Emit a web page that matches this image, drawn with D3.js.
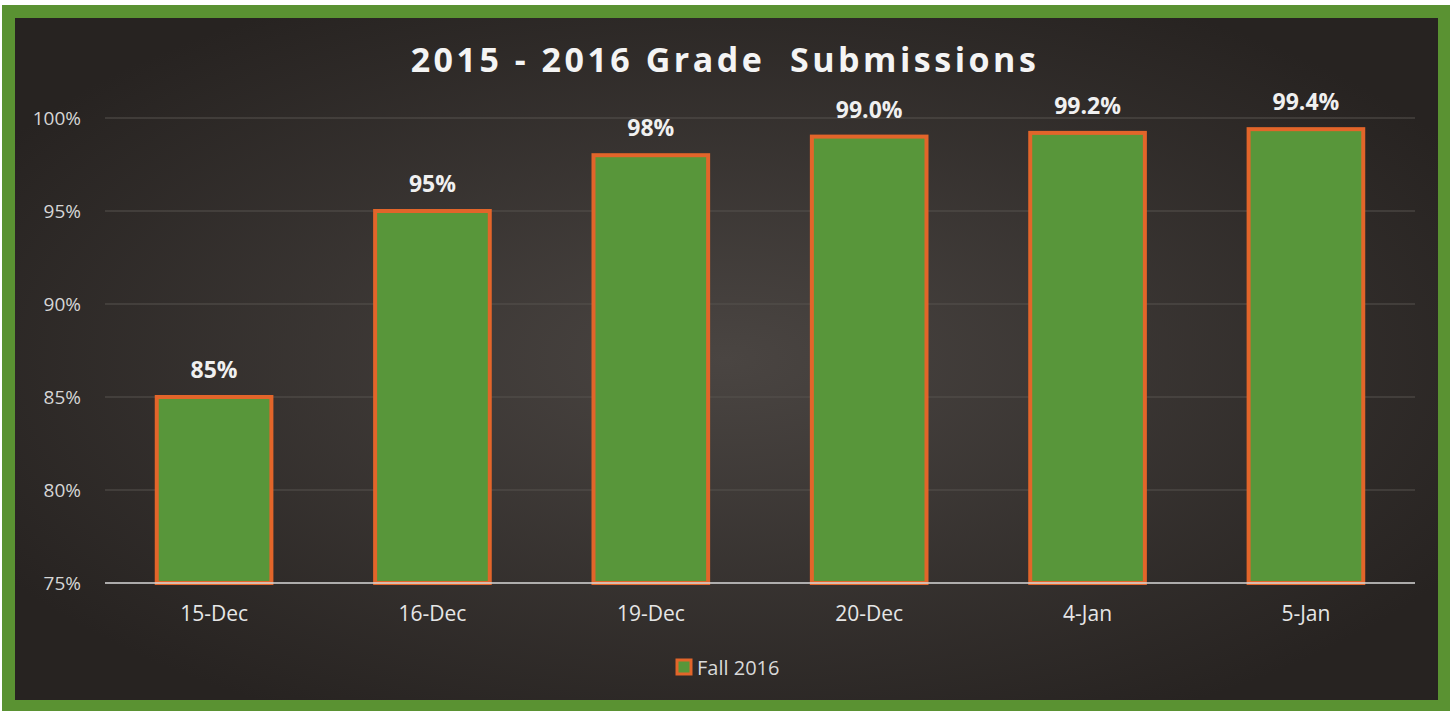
<!DOCTYPE html>
<html>
<head>
<meta charset="utf-8">
<script src="https://cdn.jsdelivr.net/npm/d3@7"></script>
<style>
  body { margin: 0; background: #fff; }
  text { font-family: "Open Sans", "Liberation Sans", sans-serif; }
</style>
</head>
<body>
<div id="chart"></div>
<script>
// Data
const categories = ["15-Dec", "16-Dec", "19-Dec", "20-Dec", "4-Jan", "5-Jan"];
const values = [85, 95, 98, 99.0, 99.2, 99.4];
const valueLabels = ["85%", "95%", "98%", "99.0%", "99.2%", "99.4%"];
const yTicks = [75, 80, 85, 90, 95, 100];
const seriesName = "Fall 2016";

const W = 1452, H = 711;
const plotLeft = 105, plotRight = 1415, plotTop = 118, plotBottom = 583;

const svg = d3.select("#chart").append("svg")
    .attr("width", W)
    .attr("height", H);

// background gradient
const defs = svg.append("defs");
const grad = defs.append("radialGradient")
    .attr("id", "bg")
    .attr("cx", "50%").attr("cy", "50%").attr("r", "60%");
grad.append("stop").attr("offset", "0%").attr("stop-color", "#4a4542");
grad.append("stop").attr("offset", "100%").attr("stop-color", "#272321");

// green frame
svg.append("rect")
    .attr("x", 2).attr("y", 5)
    .attr("width", W - 4).attr("height", H - 5)
    .attr("fill", "#5a9232");
svg.append("rect")
    .attr("x", 15).attr("y", 18)
    .attr("width", 1423).attr("height", 682)
    .attr("fill", "url(#bg)");

const x = d3.scaleBand()
    .domain(categories)
    .range([plotLeft, plotRight])
    .paddingInner(0.475)
    .paddingOuter(0.237);

const y = d3.scaleLinear()
    .domain([75, 100])
    .range([plotBottom, plotTop]);

// gridlines
svg.append("g")
    .selectAll("line")
    .data(yTicks.filter(d => d > 75))
    .join("line")
    .attr("x1", plotLeft).attr("x2", plotRight)
    .attr("y1", d => y(d)).attr("y2", d => y(d))
    .attr("stroke", "#57524f")
    .attr("stroke-width", 1);

// y axis labels
const yAxis = d3.axisLeft(y)
    .tickValues(yTicks)
    .tickSize(0)
    .tickPadding(0)
    .tickFormat(d => d + "%");
const yg = svg.append("g")
    .attr("transform", "translate(81,0)")
    .call(yAxis);
yg.select(".domain").remove();
yg.selectAll("text")
    .attr("fill", "#d6d6d6")
    .style("font-size", "19px");

// bars
svg.append("g")
    .selectAll("rect")
    .data(values)
    .join("rect")
    .attr("x", (d, i) => x(categories[i]))
    .attr("y", d => y(d))
    .attr("width", x.bandwidth())
    .attr("height", d => y(75) - y(d))
    .attr("fill", "#58963a")
    .attr("stroke", "#e2652a")
    .attr("stroke-width", 4);

// baseline
svg.append("line")
    .attr("x1", plotLeft).attr("x2", plotRight)
    .attr("y1", y(75)).attr("y2", y(75))
    .attr("stroke", "#d9d9d9")
    .attr("stroke-width", 1.5);

// value labels
svg.append("g")
    .selectAll("text")
    .data(values)
    .join("text")
    .attr("x", (d, i) => x(categories[i]) + x.bandwidth() / 2)
    .attr("y", d => y(d) - 19)
    .attr("text-anchor", "middle")
    .attr("fill", "#f0f0f0")
    .style("font-size", "23px")
    .style("font-weight", "bold")
    .text((d, i) => valueLabels[i]);

// x axis labels
const xAxis = d3.axisBottom(x).tickSize(0).tickPadding(0);
const xg = svg.append("g")
    .attr("transform", "translate(0,606)")
    .call(xAxis);
xg.select(".domain").remove();
xg.selectAll("text")
    .attr("fill", "#e6e6e6")
    .style("font-size", "21px");

// Title
svg.append("text")
    .attr("x", 725)
    .attr("y", 72)
    .attr("text-anchor", "middle")
    .attr("fill", "#f4f4f4")
    .style("font-size", "34px")
    .style("font-weight", "bold")
    .style("letter-spacing", "3.5px")
    .style("white-space", "pre")
    .text("2015 - 2016 Grade  Submissions");

// Legend
svg.append("rect")
    .attr("x", 677).attr("y", 660)
    .attr("width", 14).attr("height", 14)
    .attr("fill", "#58963a")
    .attr("stroke", "#e2652a")
    .attr("stroke-width", 3);
svg.append("text")
    .attr("x", 697)
    .attr("y", 675)
    .attr("fill", "#d9d9d9")
    .style("font-size", "20px")
    .text(seriesName);
</script>
</body>
</html>
